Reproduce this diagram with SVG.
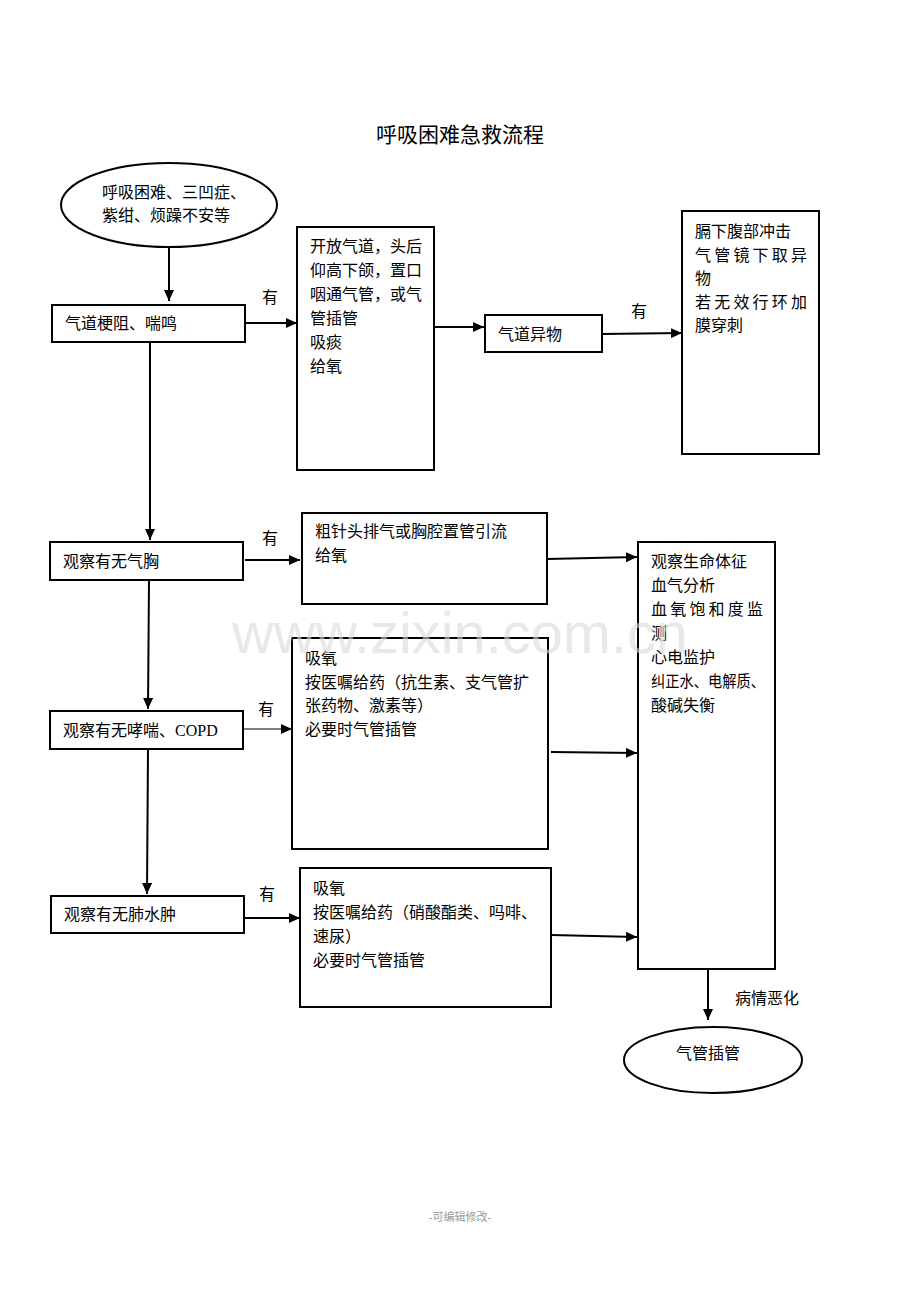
<svg xmlns="http://www.w3.org/2000/svg" width="920" height="1302" viewBox="0 0 920 1302">
<style>
.box{fill:#fff;stroke:#000;stroke-width:2}
.t{font-family:"Liberation Serif","Noto Sans CJK SC",serif;font-size:16px;fill:#000}
.ln{fill:none;stroke:#000;stroke-width:2}
.thin{fill:none;stroke:#000;stroke-width:1}
.lbl{font-family:"Liberation Serif","Noto Sans CJK SC",serif;font-size:16px;fill:#000}
</style>
<defs>
<marker id="ah" markerUnits="userSpaceOnUse" markerWidth="12" markerHeight="10" refX="11" refY="5" orient="auto">
<path d="M0,0 L11,5 L0,10 Z" fill="#000"/>
</marker>
</defs>
<rect width="920" height="1302" fill="#fff"/>
<text x="460" y="142" text-anchor="middle" font-family="'Noto Sans CJK SC',sans-serif" font-size="21" fill="#000">呼吸困难急救流程</text>

<g id="connectors">
<line class="ln" x1="169" y1="247" x2="169" y2="301" marker-end="url(#ah)"/>
<line class="ln" x1="245" y1="323" x2="297" y2="323" marker-end="url(#ah)"/>
<line class="ln" x1="434" y1="327" x2="484" y2="327" marker-end="url(#ah)"/>
<line class="ln" x1="602" y1="334" x2="682" y2="333" marker-end="url(#ah)"/>
<line class="ln" x1="150" y1="342" x2="150" y2="540" marker-end="url(#ah)"/>
<line class="ln" x1="245" y1="560" x2="300" y2="560" marker-end="url(#ah)"/>
<line class="ln" x1="547" y1="559" x2="637" y2="557" marker-end="url(#ah)"/>
<line class="ln" x1="149" y1="580" x2="148" y2="709" marker-end="url(#ah)"/>
<line class="thin" x1="243" y1="729" x2="292" y2="729" marker-end="url(#ah)"/>
<line class="ln" x1="551" y1="752" x2="637" y2="753" marker-end="url(#ah)"/>
<line class="ln" x1="148" y1="749" x2="147" y2="894" marker-end="url(#ah)"/>
<line class="ln" x1="245" y1="918" x2="300" y2="918" marker-end="url(#ah)"/>
<line class="ln" x1="551" y1="935" x2="637" y2="937" marker-end="url(#ah)"/>
<line class="ln" x1="708" y1="969" x2="708" y2="1020" marker-end="url(#ah)"/>
<text class="lbl" x="262" y="303">有</text>
<text class="lbl" x="631" y="317">有</text>
<text class="lbl" x="262" y="544">有</text>
<text class="lbl" x="258" y="715">有</text>
<text class="lbl" x="259" y="900">有</text>
<text class="lbl" x="735" y="1004">病情恶化</text>
</g>

<g id="start">
<ellipse class="box" cx="169" cy="205" rx="108" ry="42"/>
<text class="t" x="102" y="198">呼吸困难、三凹症、</text>
<text class="t" x="102" y="221">紫绀、烦躁不安等</text>
</g>

<g id="obstruction">
<rect class="box" x="52" y="305" width="193" height="37"/>
<text class="t" x="65" y="329">气道梗阻、喘鸣</text>
</g>

<g id="open-airway">
<rect class="box" x="297" y="227" width="137" height="243"/>
<text class="t" x="310" y="252">开放气道，头后</text>
<text class="t" x="310" y="276">仰高下颌，置口</text>
<text class="t" x="310" y="300">咽通气管，或气</text>
<text class="t" x="310" y="324">管插管</text>
<text class="t" x="310" y="348">吸痰</text>
<text class="t" x="310" y="372">给氧</text>
</g>

<g id="foreign-body">
<rect class="box" x="485" y="315" width="117" height="37"/>
<text class="t" x="498" y="340">气道异物</text>
</g>

<g id="heimlich">
<rect class="box" x="682" y="211" width="137" height="243"/>
<text class="t" x="695" y="237">膈下腹部冲击</text>
<text class="t" x="695" y="261" textLength="112" lengthAdjust="spacing">气管镜下取异</text>
<text class="t" x="695" y="284">物</text>
<text class="t" x="695" y="308" textLength="112" lengthAdjust="spacing">若无效行环加</text>
<text class="t" x="695" y="331">膜穿刺</text>
</g>

<g id="pneumothorax">
<rect class="box" x="50" y="542" width="193" height="38"/>
<text class="t" x="63" y="567">观察有无气胸</text>
</g>

<g id="needle">
<rect class="box" x="302" y="513" width="245" height="91"/>
<text class="t" x="315" y="537">粗针头排气或胸腔置管引流</text>
<text class="t" x="315" y="561">给氧</text>
</g>

<g id="asthma">
<rect class="box" x="50" y="711" width="193" height="38"/>
<text class="t" x="63" y="736">观察有无哮喘、COPD</text>
</g>

<g id="asthma-treat">
<rect class="box" x="292" y="638" width="256" height="211"/>
<text class="t" x="305" y="664">吸氧</text>
<text class="t" x="305" y="688">按医嘱给药（抗生素、支气管扩</text>
<text class="t" x="305" y="711">张药物、激素等）</text>
<text class="t" x="305" y="735">必要时气管插管</text>
</g>

<g id="edema">
<rect class="box" x="51" y="896" width="193" height="37"/>
<text class="t" x="64" y="920">观察有无肺水肿</text>
</g>

<g id="edema-treat">
<rect class="box" x="300" y="868" width="251" height="139"/>
<text class="t" x="313" y="894">吸氧</text>
<text class="t" x="313" y="918">按医嘱给药（硝酸酯类、吗啡、</text>
<text class="t" x="313" y="942">速尿）</text>
<text class="t" x="313" y="966">必要时气管插管</text>
</g>

<g id="monitor">
<rect class="box" x="638" y="542" width="137" height="427"/>
<text class="t" x="651" y="567">观察生命体征</text>
<text class="t" x="651" y="591">血气分析</text>
<text class="t" x="651" y="615" textLength="112" lengthAdjust="spacing">血氧饱和度监</text>
<text class="t" x="651" y="639">测</text>
<text class="t" x="651" y="663">心电监护</text>
<text class="t" x="651" y="687" textLength="114" lengthAdjust="spacingAndGlyphs">纠正水、电解质、</text>
<text class="t" x="651" y="711">酸碱失衡</text>
</g>

<g id="intubation">
<ellipse class="box" cx="713" cy="1060" rx="89" ry="33"/>
<text class="t" x="676" y="1059">气管插管</text>
</g>

<text x="460" y="653" text-anchor="middle" font-family="'Liberation Sans',sans-serif" font-size="57" fill="#d8d8d8" fill-opacity="0.6" textLength="456" lengthAdjust="spacingAndGlyphs">www.zixin.com.cn</text>
<text x="460" y="1221" text-anchor="middle" font-family="'Liberation Sans','Noto Sans CJK SC',sans-serif" font-size="11" fill="#999">-可编辑修改-</text>
</svg>
